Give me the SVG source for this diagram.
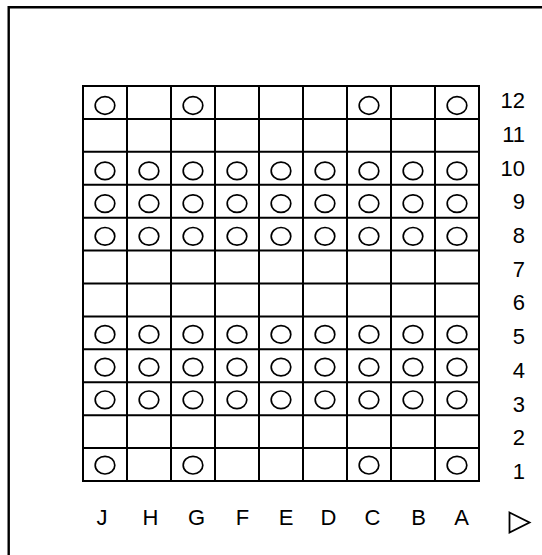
<svg xmlns="http://www.w3.org/2000/svg" width="542" height="555" viewBox="0 0 542 555">
<style>
.frame{fill:none;stroke:#000;stroke-width:2.4}
.grid{fill:none;stroke:#000;stroke-width:2}
.o{fill:none;stroke:#000;stroke-width:1.7}
.lbl{font-family:"Liberation Sans",Arial,sans-serif;font-size:22px;fill:#000}
.num{text-anchor:end}
.col{text-anchor:middle}
</style>
<rect width="542" height="555" fill="#fff"/>
<path class="frame" d="M8.7,560 V7.3 H550"/>
<g id="grid">
<rect class="grid" x="83" y="86" width="396" height="395"/>
<path class="grid" d="M127,86V481M171,86V481M215,86V481M259,86V481M303,86V481M347,86V481M391,86V481M435,86V481
M83,118.9H479M83,151.8H479M83,184.8H479M83,217.7H479M83,250.6H479M83,283.5H479M83,316.4H479M83,349.3H479M83,382.3H479M83,415.2H479M83,448.1H479"/>
</g>
<g id="marks">
<g id="row12"><ellipse class="o" cx="105" cy="105.5" rx="9.8" ry="8.8"/><ellipse class="o" cx="193" cy="105.5" rx="9.8" ry="8.8"/><ellipse class="o" cx="369" cy="105.5" rx="9.8" ry="8.8"/><ellipse class="o" cx="457" cy="105.5" rx="9.8" ry="8.8"/></g>
<g id="row10"><ellipse class="o" cx="105" cy="170.9" rx="9.8" ry="8.8"/><ellipse class="o" cx="149" cy="170.9" rx="9.8" ry="8.8"/><ellipse class="o" cx="193" cy="170.9" rx="9.8" ry="8.8"/><ellipse class="o" cx="237" cy="170.9" rx="9.8" ry="8.8"/><ellipse class="o" cx="281" cy="170.9" rx="9.8" ry="8.8"/><ellipse class="o" cx="325" cy="170.9" rx="9.8" ry="8.8"/><ellipse class="o" cx="369" cy="170.9" rx="9.8" ry="8.8"/><ellipse class="o" cx="413" cy="170.9" rx="9.8" ry="8.8"/><ellipse class="o" cx="457" cy="170.9" rx="9.8" ry="8.8"/></g>
<g id="row9"><ellipse class="o" cx="105" cy="203.6" rx="9.8" ry="8.8"/><ellipse class="o" cx="149" cy="203.6" rx="9.8" ry="8.8"/><ellipse class="o" cx="193" cy="203.6" rx="9.8" ry="8.8"/><ellipse class="o" cx="237" cy="203.6" rx="9.8" ry="8.8"/><ellipse class="o" cx="281" cy="203.6" rx="9.8" ry="8.8"/><ellipse class="o" cx="325" cy="203.6" rx="9.8" ry="8.8"/><ellipse class="o" cx="369" cy="203.6" rx="9.8" ry="8.8"/><ellipse class="o" cx="413" cy="203.6" rx="9.8" ry="8.8"/><ellipse class="o" cx="457" cy="203.6" rx="9.8" ry="8.8"/></g>
<g id="row8"><ellipse class="o" cx="105" cy="236.3" rx="9.8" ry="8.8"/><ellipse class="o" cx="149" cy="236.3" rx="9.8" ry="8.8"/><ellipse class="o" cx="193" cy="236.3" rx="9.8" ry="8.8"/><ellipse class="o" cx="237" cy="236.3" rx="9.8" ry="8.8"/><ellipse class="o" cx="281" cy="236.3" rx="9.8" ry="8.8"/><ellipse class="o" cx="325" cy="236.3" rx="9.8" ry="8.8"/><ellipse class="o" cx="369" cy="236.3" rx="9.8" ry="8.8"/><ellipse class="o" cx="413" cy="236.3" rx="9.8" ry="8.8"/><ellipse class="o" cx="457" cy="236.3" rx="9.8" ry="8.8"/></g>
<g id="row5"><ellipse class="o" cx="105" cy="334.4" rx="9.8" ry="8.8"/><ellipse class="o" cx="149" cy="334.4" rx="9.8" ry="8.8"/><ellipse class="o" cx="193" cy="334.4" rx="9.8" ry="8.8"/><ellipse class="o" cx="237" cy="334.4" rx="9.8" ry="8.8"/><ellipse class="o" cx="281" cy="334.4" rx="9.8" ry="8.8"/><ellipse class="o" cx="325" cy="334.4" rx="9.8" ry="8.8"/><ellipse class="o" cx="369" cy="334.4" rx="9.8" ry="8.8"/><ellipse class="o" cx="413" cy="334.4" rx="9.8" ry="8.8"/><ellipse class="o" cx="457" cy="334.4" rx="9.8" ry="8.8"/></g>
<g id="row4"><ellipse class="o" cx="105" cy="367.1" rx="9.8" ry="8.8"/><ellipse class="o" cx="149" cy="367.1" rx="9.8" ry="8.8"/><ellipse class="o" cx="193" cy="367.1" rx="9.8" ry="8.8"/><ellipse class="o" cx="237" cy="367.1" rx="9.8" ry="8.8"/><ellipse class="o" cx="281" cy="367.1" rx="9.8" ry="8.8"/><ellipse class="o" cx="325" cy="367.1" rx="9.8" ry="8.8"/><ellipse class="o" cx="369" cy="367.1" rx="9.8" ry="8.8"/><ellipse class="o" cx="413" cy="367.1" rx="9.8" ry="8.8"/><ellipse class="o" cx="457" cy="367.1" rx="9.8" ry="8.8"/></g>
<g id="row3"><ellipse class="o" cx="105" cy="399.8" rx="9.8" ry="8.8"/><ellipse class="o" cx="149" cy="399.8" rx="9.8" ry="8.8"/><ellipse class="o" cx="193" cy="399.8" rx="9.8" ry="8.8"/><ellipse class="o" cx="237" cy="399.8" rx="9.8" ry="8.8"/><ellipse class="o" cx="281" cy="399.8" rx="9.8" ry="8.8"/><ellipse class="o" cx="325" cy="399.8" rx="9.8" ry="8.8"/><ellipse class="o" cx="369" cy="399.8" rx="9.8" ry="8.8"/><ellipse class="o" cx="413" cy="399.8" rx="9.8" ry="8.8"/><ellipse class="o" cx="457" cy="399.8" rx="9.8" ry="8.8"/></g>
<g id="row1"><ellipse class="o" cx="105" cy="465.2" rx="9.8" ry="8.8"/><ellipse class="o" cx="193" cy="465.2" rx="9.8" ry="8.8"/><ellipse class="o" cx="369" cy="465.2" rx="9.8" ry="8.8"/><ellipse class="o" cx="457" cy="465.2" rx="9.8" ry="8.8"/></g>
</g>
<g id="row-labels" class="lbl num">
<text x="525" y="108">12</text>
<text x="525" y="141.7">11</text>
<text x="525" y="175.5">10</text>
<text x="525" y="209.2">9</text>
<text x="525" y="242.9">8</text>
<text x="525" y="276.7">7</text>
<text x="525" y="310.4">6</text>
<text x="525" y="344.1">5</text>
<text x="525" y="377.8">4</text>
<text x="525" y="411.6">3</text>
<text x="525" y="445.3">2</text>
<text x="525" y="479">1</text>
</g>
<g id="col-labels" class="lbl col">
<text x="102" y="525">J</text>
<text x="150.5" y="525">H</text>
<text x="196.5" y="525">G</text>
<text x="242.5" y="525">F</text>
<text x="286" y="525">E</text>
<text x="328.5" y="525">D</text>
<text x="372.5" y="525">C</text>
<text x="418.5" y="525">B</text>
<text x="461.5" y="525">A</text>
</g>
<g id="direction">
<polygon points="509.5,512.5 529.5,522.5 509.5,532.5" fill="none" stroke="#000" stroke-width="1.8" stroke-linejoin="miter"/>
</g>
</svg>
